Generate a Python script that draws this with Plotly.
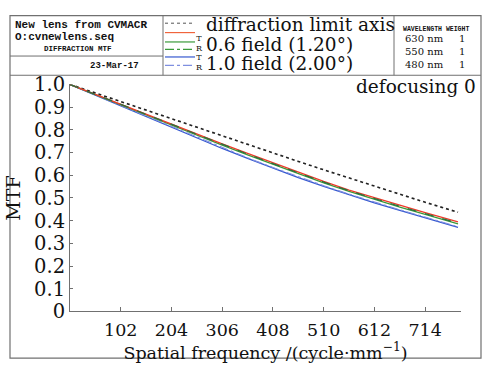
import plotly.graph_objects as go

W, H = 489, 372

# ---- data ----
freq = [0, 51, 102, 153, 204, 255, 306, 357, 408, 459, 510, 561, 612, 663, 714, 780]
diffraction = [1.0, 0.962, 0.924, 0.886, 0.848, 0.810, 0.772, 0.735, 0.697, 0.661, 0.624, 0.588, 0.552, 0.516, 0.481, 0.437]
axis_mtf = [1.0, 0.956, 0.912, 0.867, 0.824, 0.781, 0.738, 0.696, 0.654, 0.613, 0.573, 0.535, 0.500, 0.468, 0.436, 0.395]
f06_T = [1.0, 0.955, 0.910, 0.865, 0.821, 0.777, 0.733, 0.690, 0.648, 0.607, 0.567, 0.529, 0.493, 0.460, 0.428, 0.386]
f06_R = [1.0, 0.956, 0.911, 0.866, 0.823, 0.779, 0.735, 0.693, 0.651, 0.610, 0.570, 0.532, 0.496, 0.463, 0.431, 0.389]
f10_T = [1.0, 0.953, 0.905, 0.857, 0.810, 0.764, 0.718, 0.674, 0.631, 0.590, 0.551, 0.514, 0.478, 0.445, 0.413, 0.370]
f10_R = [1.0, 0.954, 0.907, 0.859, 0.813, 0.767, 0.721, 0.677, 0.634, 0.593, 0.554, 0.517, 0.481, 0.448, 0.416, 0.373]

x_ticks = [102, 204, 306, 408, 510, 612, 714]
y_ticks = [0, 0.1, 0.2, 0.3, 0.4, 0.5, 0.6, 0.7, 0.8, 0.9, 1.0]
y_ticktext = ["0", "0.1", "0.2", "0.3", "0.4", "0.5", "0.6", "0.7", "0.8", "0.9", "1.0"]

wavelengths = ["630 nm", "550 nm", "480 nm"]
weights = ["1", "1", "1"]

RED = "#ee3b2b"
GREEN = "#3a9a3a"
DKGREEN = "#2f6f3f"
BLUE = "#3558d0"
FRAME = "#707070"
SERIF = "DejaVu Serif"
MONO = "Liberation Mono"


def px(x):
    return x / W


def py(y):
    return 1 - y / H


fig = go.Figure()
fig.add_trace(go.Scatter(x=freq, y=diffraction, mode="lines",
                         line=dict(color="#222222", width=1.6, dash="dot"), name="diffraction limit"))
fig.add_trace(go.Scatter(x=freq, y=f10_T, mode="lines", line=dict(color=BLUE, width=1.3), name="1.0 T"))
fig.add_trace(go.Scatter(x=freq, y=f10_R, mode="lines", line=dict(color="#7f8fe0", width=1.1, dash="dashdot"), name="1.0 R"))
fig.add_trace(go.Scatter(x=freq, y=f06_T, mode="lines", line=dict(color=GREEN, width=1.3), name="0.6 T"))
fig.add_trace(go.Scatter(x=freq, y=axis_mtf, mode="lines", line=dict(color=RED, width=1.3), name="axis"))
fig.add_trace(go.Scatter(x=freq, y=f06_R, mode="lines", line=dict(color=DKGREEN, width=1.3, dash="dash"), name="0.6 R"))

shapes = []


def hline(x0, x1, y, color=FRAME, width=1, dash="solid"):
    shapes.append(dict(type="line", xref="paper", yref="paper", x0=px(x0), x1=px(x1), y0=py(y), y1=py(y),
                       line=dict(color=color, width=width, dash=dash)))


def vline(x, y0, y1, color=FRAME, width=1):
    shapes.append(dict(type="line", xref="paper", yref="paper", x0=px(x), x1=px(x), y0=py(y0), y1=py(y1),
                       line=dict(color=color, width=width)))


# frame
shapes.append(dict(type="rect", xref="paper", yref="paper", x0=px(10), x1=px(481), y0=py(370), y1=py(5),
                   line=dict(color=FRAME, width=1.2)))
hline(10, 481, 68.5)
vline(163, 5, 68.5)
hline(10, 163, 48)
vline(394, 5, 68.5)

# legend swatches
hline(165, 195, 13, color="#555555", width=1, dash="dot")
hline(165, 195, 23, color="#f0643c", width=1.2)
hline(165, 195, 33, color=GREEN, width=1.2)
hline(165, 195, 41, color=GREEN, width=1.2, dash="dashdot")
hline(165, 195, 49, color=BLUE, width=1.2)
hline(165, 195, 58, color="#7f8fe0", width=1.2, dash="dashdot")

ann = []


def text(x, y, s, size, family=SERIF, xanchor="left", color="#111111", bold=False, align="left"):
    if bold:
        s = "<b>" + s + "</b>"
    ann.append(dict(x=px(x), y=py(y), xref="paper", yref="paper", text=s, showarrow=False, align=align,
                    xanchor=xanchor, yanchor="middle", font=dict(family=family, size=size, color=color)))


text(13, 15, "New lens from CVMACR", 11, MONO, bold=True)
text(13, 28, "O:cvnewlens.seq", 11, MONO, bold=True)
text(78, 40, "DIFFRACTION MTF", 7.5, MONO, xanchor="center", bold=True)
text(141, 59, "23-Mar-17", 9, MONO, xanchor="right", bold=True)

text(204, 14, "diffraction limit axis", 18.5)
text(204, 36, "0.6 field (1.20°)", 18.5)
text(204, 56, "1.0 field (2.00°)", 18.5)
text(199, 35, "T<br>R", 8, xanchor="center", align="center")
text(199, 55, "T<br>R", 8, xanchor="center", align="center")

text(436, 20, "WAVELENGTH WEIGHT", 6.5, MONO, xanchor="center", bold=True)
text(403, 43.5, "<br>".join(wavelengths), 10)
text(462, 43.5, "<br>".join(weights), 10, xanchor="center", align="center")

text(478, 80, "defocusing 0", 18.5, xanchor="right")

fig.update_layout(
    width=W, height=H,
    margin=dict(l=0, r=0, t=0, b=0),
    paper_bgcolor="white", plot_bgcolor="white",
    showlegend=False,
    shapes=shapes, annotations=ann,
    xaxis=dict(domain=[px(70), px(461)], range=[0, 786], tickvals=x_ticks,
               ticks="inside", ticklen=4, tickcolor=FRAME, showline=True, linecolor=FRAME, linewidth=1,
               showgrid=False, zeroline=False, tickfont=dict(family=SERIF, size=17.5, color="#111111"),
               ticklabelstandoff=3,
               title=dict(text="Spatial frequency /(cycle·mm<sup>−1</sup>)", standoff=0,
                          font=dict(family=SERIF, size=17.5, color="#111111"))),
    yaxis=dict(domain=[py(320.3), py(78.3)], range=[0, 1.0], tickvals=y_ticks, ticktext=y_ticktext,
               ticks="inside", ticklen=3, tickcolor=FRAME, showline=True, linecolor=FRAME, linewidth=1,
               showgrid=False, zeroline=False, tickfont=dict(family=SERIF, size=19.5, color="#111111"),
               title=dict(text="MTF", standoff=8, font=dict(family=SERIF, size=19, color="#111111"))),
)

fig.write_html("out.html", config={"displayModeBar": False},
               post_script="document.body.style.margin='0';document.body.style.overflow='hidden';")
